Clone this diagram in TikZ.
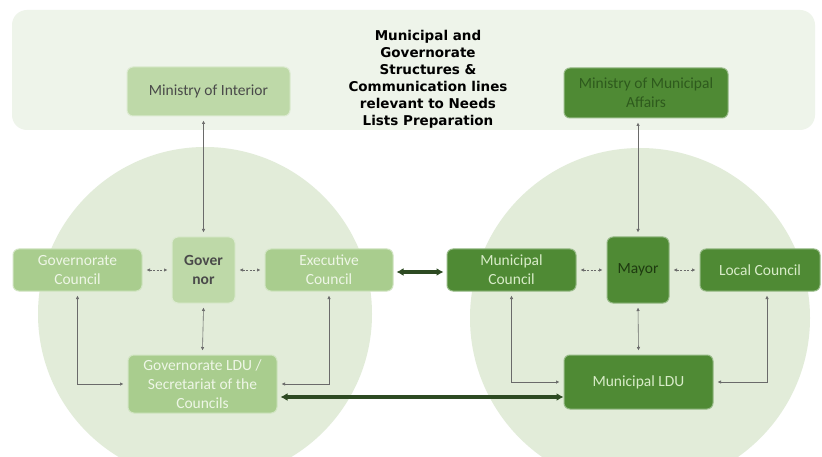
\documentclass[tikz,border=0pt]{standalone}
\usepackage{fontspec}
\setmainfont{Carlito}
\newfontfamily\titlefont{DejaVu Sans}
\usetikzlibrary{arrows.meta,calc}
\definecolor{bandc}{HTML}{EEF4EA}
\definecolor{circc}{HTML}{E2ECD9}
\definecolor{lgreen}{HTML}{A9CD8E}
\definecolor{lpale}{HTML}{BED9A8}
\definecolor{dgreen}{HTML}{4F8A34}
\definecolor{ltext}{HTML}{EEF6E6}
\definecolor{dtext}{HTML}{D8ECC8}
\definecolor{darktxt}{HTML}{2E5A1D}
\definecolor{mayortxt}{HTML}{1E3A10}
\definecolor{graytxt}{HTML}{4A4A4A}
\definecolor{cgray}{HTML}{6A6A6A}
\definecolor{tgreen}{HTML}{2D4A22}
\tikzset{
  box/.style={rounded corners=6pt, inner sep=2pt, align=center, line width=1pt,
    font=\fontsize{15.5}{19}\selectfont},
  lbox/.style={box, fill=lgreen, draw=lgreen!55!white, text=ltext},
  pbox/.style={box, fill=lpale, draw=lpale!55!white},
  dbox/.style={box, fill=dgreen, draw=dgreen!60!white, text=dtext},
  conn/.style={draw=cgray, line width=0.6pt, {Latex[length=3.5pt,width=3.5pt]}-{Latex[length=3.5pt,width=3.5pt]}},
  dconn/.style={conn, dash pattern=on 2pt off 1.5pt},
  thickarr/.style={draw=tgreen, line width=3.5pt, {Latex[length=7pt,width=8pt]}-{Latex[length=7pt,width=8pt]}},
}
\begin{document}
\begin{tikzpicture}[x=1pt,y=-1pt]
\useasboundingbox (0,0) rectangle (822,457);
\fill[white] (0,0) rectangle (822,457);
% circles
\fill[circc] (205,314) circle (167);
\fill[circc] (640,318) circle (170);
% top band
\fill[bandc, rounded corners=15pt] (12,10) rectangle (815,130);
% title
\node[font=\titlefont\bfseries\fontsize{13.5}{17}\selectfont, align=center, text=black] (title) at (428,79.5)
  {Municipal and\\Governorate\\Structures \&\\Communication lines\\relevant to Needs\\Lists Preparation};
% boxes
\node[pbox, minimum width=163pt, minimum height=49pt, text=graytxt] (mint) at (208.5,91.5) {Ministry of Interior};
\node[dbox, minimum width=164pt, minimum height=50pt, text=darktxt] (mmun) at (646,93) {Ministry of Municipal\\Affairs};
\node[lbox, minimum width=129pt, minimum height=42pt] (govc) at (77.5,270) {Governorate\\Council};
\node[pbox, minimum width=63pt, minimum height=66pt, text=graytxt, font=\bfseries\fontsize{15.5}{19}\selectfont] (gov) at (203.5,270) {Gover\\nor};
\node[lbox, minimum width=128pt, minimum height=42pt] (exec) at (329,270) {Executive\\Council};
\node[lbox, minimum width=149pt, minimum height=58pt] (gldu) at (202.5,384) {Governorate LDU /\\Secretariat of the\\Councils};
\node[dbox, minimum width=129pt, minimum height=42pt] (mcou) at (511.5,270) {Municipal\\Council};
\node[dbox, minimum width=62pt, minimum height=66pt, text=mayortxt] (mayor) at (638,270) {Mayor};
\node[dbox, minimum width=120pt, minimum height=42pt] (lcou) at (760,270) {Local Council};
\node[dbox, minimum width=149pt, minimum height=54pt] (mldu) at (638.5,382) {Municipal LDU};
% thin connectors
\draw[conn] ([yshift=-4pt]mint.south -| gov.north) -- ([yshift=4pt]gov.north);
\draw[conn] ([yshift=-4pt]mmun.south -| mayor.north) -- ([yshift=4pt]mayor.north);
\draw[dconn] ([xshift=4pt]govc.east) -- ([xshift=-4pt]gov.west);
\draw[dconn] ([xshift=4pt]gov.east) -- ([xshift=-4pt]exec.west);
\draw[conn] ([yshift=-4pt]gov.south) -- ([yshift=4pt]gldu.north);
\draw[conn] ([yshift=-4pt]govc.south) |- ([xshift=-4pt]gldu.west);
\draw[conn] ([yshift=-4pt]exec.south) |- ([xshift=4pt]gldu.east);
\draw[dconn] ([xshift=4pt]mcou.east) -- ([xshift=-4pt]mayor.west);
\draw[dconn] ([xshift=4pt]mayor.east) -- ([xshift=-4pt]lcou.west);
\draw[conn] ([yshift=-4pt]mayor.south) -- ([yshift=4pt]mldu.north);
\draw[conn] ([yshift=-4pt]mcou.south) |- ([xshift=-4pt]mldu.west);
\coordinate (lcb) at ([xshift=7pt,yshift=-4pt]lcou.south);
\draw[conn] (lcb) |- ([xshift=4pt]mldu.east);
% thick connectors
\draw[thickarr] ([xshift=3pt,yshift=-2pt]exec.east) -- ([xshift=-3pt,yshift=-2pt]mcou.west);
\coordinate (ta) at ([xshift=3pt,yshift=-13pt]gldu.east);
\draw[thickarr] (ta) -- (ta -| mldu.west);
\end{tikzpicture}
\end{document}
